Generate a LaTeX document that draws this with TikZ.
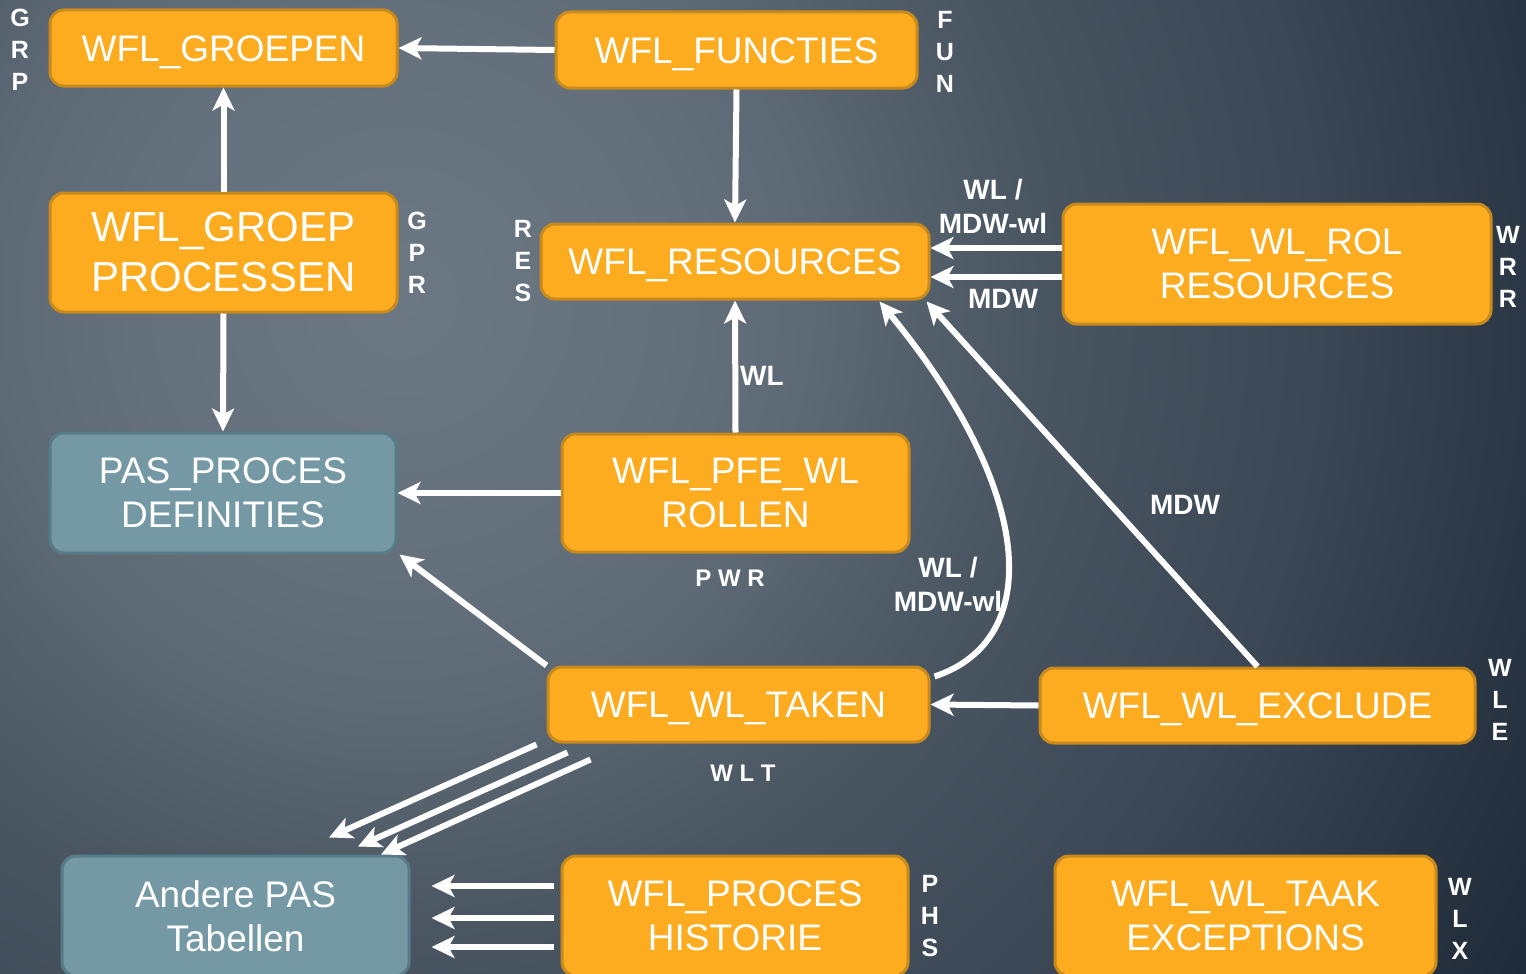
\documentclass[tikz,border=0pt]{standalone}
\usepackage{fontspec}
\setmainfont{Liberation Sans}
\usetikzlibrary{arrows.meta,calc}
\definecolor{bgA}{HTML}{6B7782}
\definecolor{bgB}{HTML}{64707B}
\definecolor{bgC}{HTML}{5D6975}
\definecolor{bgD}{HTML}{4A5763}
\definecolor{bgE}{HTML}{3A4653}
\definecolor{bgF}{HTML}{2E3A47}
\definecolor{bgG}{HTML}{1F2B38}
\definecolor{boxO}{HTML}{FDAC1F}
\definecolor{boxOd}{HTML}{C98A1D}
\definecolor{boxB}{HTML}{7599A4}
\definecolor{boxBd}{HTML}{567C87}
\pgfdeclareradialshading{bgrad}{\pgfpoint{0bp}{0bp}}{color(0bp)=(bgA); color(4.8bp)=(bgB); color(7.3bp)=(bgC); color(11.2bp)=(bgD); color(16.7bp)=(bgE); color(19.4bp)=(bgF); color(23.4bp)=(bgG); color(50bp)=(bgG)}
\tikzset{
  obox/.style={draw=boxOd, fill=boxO, line width=3pt, rounded corners=14pt, text=white, align=center, font=\fontsize{37}{44}\selectfont, inner sep=0pt},
  bbox/.style={obox, draw=boxBd, fill=boxB},
  oneline/.style={text height=26.5pt, text depth=0pt},
  tag/.style={text=white, align=center, font=\bfseries\fontsize{25}{32}\selectfont, inner sep=0pt},
  lab/.style={text=white, align=center, font=\bfseries\fontsize{28}{34}\selectfont, inner sep=0pt},
  arr/.style={draw=white, line width=6pt, -{Stealth[length=23pt,width=22pt,inset=6pt]}}
}
\begin{document}
\begin{tikzpicture}[x=1pt,y=-1pt]
\useasboundingbox (0,0) rectangle (1526,974);
\begin{scope}
\clip (0,0) rectangle (1526,974);
\fill[bgG] (0,0) rectangle (1526,974);
\shade[shading=bgrad] (400,300) circle (1400pt);
\end{scope}

% boxes
\node[obox, oneline, minimum width=347pt, minimum height=76pt] (grp) at (223.5,48) {WFL\_GROEPEN};
\node[obox, oneline, minimum width=361pt, minimum height=76pt] (fun) at (736.5,50) {WFL\_FUNCTIES};
\node[obox, minimum width=347pt, minimum height=119pt, font=\fontsize{42}{50}\selectfont] (gpr) at (223.5,252.5) {WFL\_GROEP\\PROCESSEN};
\node[obox, oneline, minimum width=388pt, minimum height=75pt] (res) at (735,261.5) {WFL\_RESOURCES};
\node[obox, minimum width=428pt, minimum height=120pt] (wrr) at (1277,264) {WFL\_WL\_ROL\\RESOURCES};
\node[bbox, minimum width=346pt, minimum height=120pt] (pas) at (223,493) {PAS\_PROCES\\DEFINITIES};
\node[obox, minimum width=347pt, minimum height=118pt] (pwr) at (735.5,493) {WFL\_PFE\_WL\\ROLLEN};
\node[obox, oneline, minimum width=381pt, minimum height=75pt] (wlt) at (738.5,704.5) {WFL\_WL\_TAKEN};
\node[obox, oneline, minimum width=435pt, minimum height=75pt] (wle) at (1257.5,705.5) {WFL\_WL\_EXCLUDE};
\node[bbox, minimum width=347pt, minimum height=120pt] (and) at (235.5,916) {Andere PAS\\Tabellen};
\node[obox, minimum width=346pt, minimum height=120pt] (phs) at (735,916) {WFL\_PROCES\\HISTORIE};
\node[obox, minimum width=381pt, minimum height=120pt] (wlx) at (1245.5,916) {WFL\_WL\_TAAK\\EXCEPTIONS};

% tags
\node[tag] (tgrp) at (20,50) {G\\R\\P};
\node[tag] (tfun) at (945,52) {F\\U\\N};
\node[tag] (tgpr) at (417,253) {G\\P\\R};
\node[tag] (tres) at (523,261) {R\\E\\S};
\node[tag] (twrr) at (1508,267) {W\\R\\R};
\node[tag] (twle) at (1500,700) {W\\L\\E};
\node[tag] (tphs) at (930,916) {P\\H\\S};
\node[tag] (twlx) at (1460,919) {W\\L\\X};
\node[tag, font=\bfseries\fontsize{24}{30}\selectfont] (tpwr) at (730,578) {P W R};
\node[tag, font=\bfseries\fontsize{24}{30}\selectfont] (twlt) at (743,773) {W L T};

% connectors
\draw[arr] (fun.west) -- (grp.east);
\draw[arr] (gpr.north) -- (grp.south);
\draw[arr] (gpr.south) -- (pas.north);
\draw[arr] (fun.south) -- (res.north);
\draw[arr] ($(wrr.west)+(0,-16)$) -- ($(res.east)+(0,-13.5)$);
\draw[arr] ($(wrr.west)+(0,13)$) -- ($(res.east)+(0,15.5)$);
\draw[arr] (pwr.north) -- (res.south);
\draw[arr] (pwr.west) -- (pas.east);
\draw[arr] (wlt.north west) -- ($(pas.south east)+(2,0)$);
\coordinate (cstart) at ($(wlt.north east)+(4,11)$);
\coordinate (cend) at ($(res.south east)+(-51,1)$);
\draw[arr] (cstart) .. controls (1045,640) and (1035,490) .. (cend);
\draw[arr] (wle.north) -- ($(res.south east)+(-4,1)$);
\draw[arr] (wle.west) -- (wlt.east);
\draw[arr] ($(wlt.south west)+(-10,1)$) -- ($(and.north)+(93.5,-17)$);
\draw[arr] ($(wlt.south west)+(21,9)$) -- ($(and.north)+(122.5,-8)$);
\draw[arr] ($(wlt.south west)+(44,16)$) -- ($(and.north)+(145.5,0)$);
\draw[arr] ($(phs.west)+(-7,-30)$) -- ($(and.east)+(21,-30)$);
\draw[arr] ($(phs.west)+(-7,2)$) -- ($(and.east)+(21,2)$);
\draw[arr] ($(phs.west)+(-7,31)$) -- ($(and.east)+(21,31)$);

% connector labels
\node[lab] (l1) at (993,206) {WL /\\MDW-wl};
\node[lab] (l2) at (1003,299) {MDW};
\node[lab] (l3) at (762,376) {WL};
\node[lab] (l4) at (948,584) {WL /\\MDW-wl};
\node[lab] (l5) at (1185,505) {MDW};
\end{tikzpicture}
\end{document}
